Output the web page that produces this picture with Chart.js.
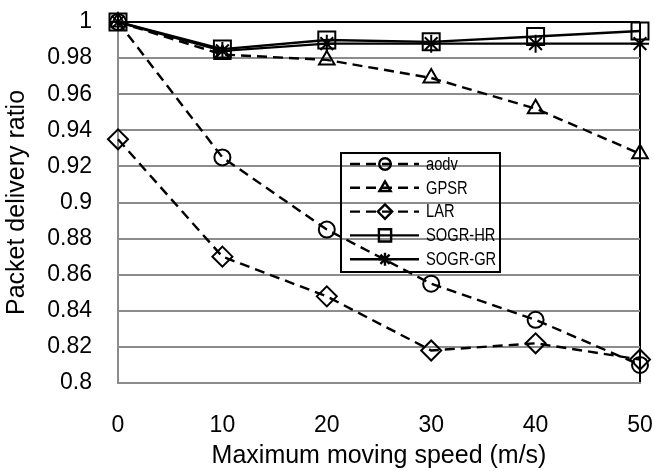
<!DOCTYPE html>
<html>
<head>
<meta charset="utf-8">
<script src="https://cdn.jsdelivr.net/npm/chart.js@4/dist/chart.umd.min.js"></script>
<style>
  html, body { margin: 0; padding: 0; background: #fff; }
  #wrap { width: 654px; height: 471px; }
</style>
</head>
<body>
<div id="wrap"><canvas id="pdrChart" width="654" height="471"></canvas></div>
<script>
const speeds = [0, 10, 20, 30, 40, 50];
const aodv   = [1, 0.925, 0.885, 0.855, 0.835, 0.81];
const gpsr   = [1, 0.982, 0.979, 0.969, 0.952, 0.927];
const lar    = [0.935, 0.87, 0.848, 0.818, 0.822, 0.813];
const sogrHr = [1, 0.985, 0.99, 0.989, 0.992, 0.995];
const sogrGr = [1, 0.984, 0.988, 0.988, 0.988, 0.988];
const yTicks = [0.8, 0.82, 0.84, 0.86, 0.88, 0.9, 0.92, 0.94, 0.96, 0.98, 1];

const GRID = '#8c8c8c';
const FONT = "'Liberation Sans', Arial, sans-serif";

function series(label, values, style, radius, dashed) {
    return {
        label: label,
        data: values.map((v, i) => ({ x: speeds[i], y: v })),
        borderColor: '#000',
        borderWidth: 2.4,
        borderDash: dashed ? [10, 6] : [],
        pointStyle: style,
        pointRadius: radius,
        pointHoverRadius: radius,
        pointBorderColor: '#000',
        pointBackgroundColor: 'rgba(0,0,0,0)',
        pointBorderWidth: 2,
        tension: 0,
        clip: false
    };
}

// legend box drawn inside the plot area (transparent, lines show through)
const innerLegend = {
    id: 'innerLegend',
    beforeDatasetsDraw(chart) {
        const { ctx, chartArea } = chart;
        const x0 = chartArea.left + 223, y0 = chartArea.top + 131;
        const w = 159, h = 119;
        ctx.save();
        ctx.strokeStyle = '#000';
        ctx.lineWidth = 2;
        ctx.strokeRect(x0, y0, w, h);
        chart.data.datasets.forEach((ds, i) => {
            const y = y0 + 11 + i * 23.8;
            ctx.strokeStyle = '#000';
            ctx.lineWidth = 2.4;
            ctx.setLineDash(ds.borderDash);
            ctx.beginPath();
            ctx.moveTo(x0 + 9, y);
            ctx.lineTo(x0 + 78, y);
            ctx.stroke();
            ctx.setLineDash([]);
            ctx.fillStyle = 'rgba(0,0,0,0)';
            Chart.helpers.drawPoint(ctx, { pointStyle: ds.pointStyle, radius: ds.pointRadius * 0.72, borderWidth: 2 }, x0 + 44, y);
            // condensed label text
            ctx.save();
            ctx.translate(x0 + 85, y + 1);
            ctx.scale(0.84, 1);
            ctx.fillStyle = '#000';
            ctx.font = '17.5px ' + FONT;
            ctx.textBaseline = 'middle';
            ctx.textAlign = 'left';
            ctx.fillText(ds.label, 0, 0);
            ctx.restore();
        });
        ctx.restore();
    }
};

new Chart(document.getElementById('pdrChart'), {
    type: 'line',
    data: {
        datasets: [
            series('aodv', aodv, 'circle', 8, true),
            series('GPSR', gpsr, 'triangle', 9, true),
            series('LAR', lar, 'rectRot', 10, true),
            series('SOGR-HR', sogrHr, 'rect', 12, false),
            series('SOGR-GR', sogrGr, 'star', 9, false)
        ]
    },
    options: {
        responsive: false,
        animation: false,
        layout: { padding: { top: 22, right: 14, left: 0, bottom: 0 } },
        plugins: { legend: { display: false }, tooltip: { enabled: false } },
        scales: {
            x: {
                type: 'linear',
                min: 0,
                max: 50,
                afterFit: (s) => { s.height = 88; s.paddingLeft = 0; s.paddingRight = 0; },
                ticks: { stepSize: 10, color: '#000', padding: 29, font: { family: FONT, size: 23 } },
                grid: {
                    drawTicks: false,
                    lineWidth: 2,
                    color: (c) => c.tick && c.tick.value === 50 ? '#000' : 'rgba(0,0,0,0)'
                },
                border: { color: GRID, width: 2 },
                title: {
                    display: true,
                    text: 'Maximum moving speed (m/s)',
                    color: '#000',
                    padding: { top: 0, bottom: 0 },
                    font: { family: FONT, size: 25 }
                }
            },
            y: {
                min: 0.8,
                max: 1,
                afterFit: (s) => { s.width = 118; s.paddingTop = 0; s.paddingBottom = 0; },
                afterBuildTicks: (s) => { s.ticks = yTicks.map(v => ({ value: v })); },
                ticks: {
                    color: '#000',
                    padding: 26,
                    font: { family: FONT, size: 23 },
                    callback: (v) => String(+v.toFixed(2))
                },
                grid: {
                    drawTicks: false,
                    lineWidth: 2,
                    color: (c) => c.tick && c.tick.value === 1 ? '#000' : GRID
                },
                border: { color: GRID, width: 2 },
                title: {
                    display: true,
                    text: 'Packet delivery ratio',
                    color: '#000',
                    padding: { top: 2, bottom: 0 },
                    font: { family: FONT, size: 25 }
                }
            }
        }
    },
    plugins: [innerLegend]
});
</script>
</body>
</html>
